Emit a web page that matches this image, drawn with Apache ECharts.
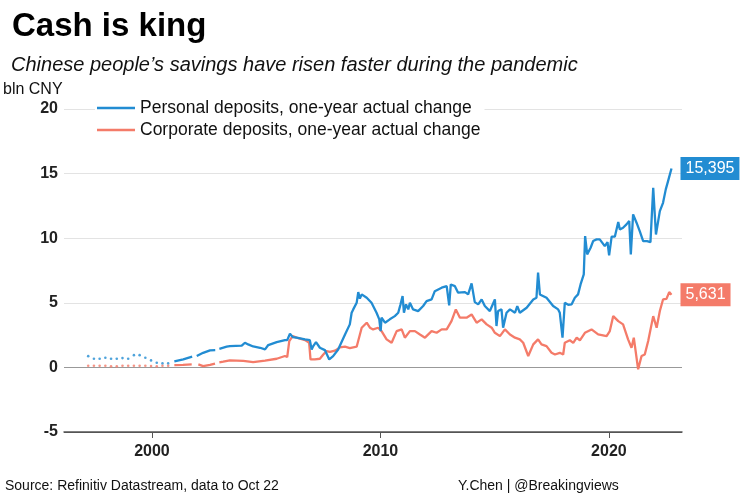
<!DOCTYPE html>
<html>
<head>
<meta charset="utf-8">
<script src="https://cdn.jsdelivr.net/npm/echarts@6/dist/echarts.min.js"></script>
<style>html,body{margin:0;padding:0;background:#fff}#c{width:750px;height:500px}</style>
</head>
<body>
<div id="c"></div>
<script>
// ---- data ----
const seriesNames = ['Personal deposits, one-year actual change', 'Corporate deposits, one-year actual change'];
const xTickYears = [2000, 2010, 2020];
const yTicks = [-5, 0, 5, 10, 15, 20];
const endLabelTexts = ['15,395', '5,631'];

// early quarterly estimates (dotted)
const dottedYears = [1997.21, 1997.46, 1997.71, 1997.96, 1998.21, 1998.46, 1998.71, 1998.96, 1999.21, 1999.46, 1999.71, 1999.96, 2000.21, 2000.46, 2000.71];
const personalDotted = [0.87, 0.67, 0.67, 0.75, 0.67, 0.67, 0.72, 0.67, 0.95, 0.95, 0.75, 0.54, 0.36, 0.31, 0.31];
const corporateDotted = [0.13, 0.13, 0.13, 0.13, 0.08, 0.08, 0.13, 0.13, 0.13, 0.13, 0.13, 0.10, 0.08, 0.13, 0.13];

const personalYears = [2000.98, 2001.37, 2001.76, 2001.86, 2001.96, 2002.24, 2002.54, 2002.77, 2002.86, 2002.95, 2003.27, 2003.41, 2003.93, 2004.07, 2004.21, 2004.43, 2004.73, 2004.95, 2005.02, 2005.09, 2005.46, 2005.82, 2005.92, 2006.04, 2006.16, 2006.33, 2006.70, 2006.91, 2006.99, 2007.06, 2007.18, 2007.35, 2007.57, 2007.76, 2007.93, 2008.15, 2008.45, 2008.66, 2008.74, 2008.81, 2008.96, 2009.03, 2009.10, 2009.18, 2009.40, 2009.61, 2009.83, 2009.95, 2010.01, 2010.05, 2010.20, 2010.41, 2010.63, 2010.78, 2010.88, 2010.97, 2011.03, 2011.12, 2011.22, 2011.29, 2011.43, 2011.65, 2011.87, 2012.02, 2012.24, 2012.38, 2012.68, 2012.90, 2013.01, 2013.08, 2013.26, 2013.40, 2013.70, 2013.84, 2013.99, 2014.13, 2014.28, 2014.43, 2014.57, 2014.79, 2015.01, 2015.08, 2015.15, 2015.30, 2015.37, 2015.52, 2015.67, 2015.89, 2015.99, 2016.10, 2016.40, 2016.69, 2016.83, 2016.90, 2016.98, 2017.27, 2017.56, 2017.78, 2017.85, 2017.97, 2018.07, 2018.22, 2018.37, 2018.51, 2018.65, 2018.76, 2018.90, 2018.96, 2019.05, 2019.20, 2019.31, 2019.46, 2019.60, 2019.68, 2019.82, 2019.94, 2020.01, 2020.12, 2020.26, 2020.41, 2020.48, 2020.62, 2020.77, 2020.89, 2020.96, 2021.06, 2021.21, 2021.35, 2021.50, 2021.67, 2021.82, 2021.94, 2022.06, 2022.23, 2022.37, 2022.49, 2022.59, 2022.74];
const personalValues = [0.46, 0.62, 0.83, null, 0.88, 1.13, 1.32, 1.34, null, 1.44, 1.60, 1.65, 1.68, 1.91, 1.78, 1.62, 1.52, 1.39, 1.26, 1.73, 1.96, 2.11, 2.11, 2.60, 2.35, 2.30, 2.17, 2.11, 1.39, 1.65, 1.96, 1.52, 1.34, 0.62, 0.87, 1.39, 2.55, 3.33, 4.23, 4.49, 5.00, 5.83, 5.32, 5.65, 5.39, 5.00, 4.23, 3.72, 2.81, 3.85, 3.46, 3.72, 3.97, 4.23, 4.88, 5.52, 4.23, 4.88, 4.49, 5.00, 4.49, 4.36, 4.75, 5.13, 5.26, 5.90, 6.17, 6.29, 4.80, 6.42, 6.29, 5.78, 5.83, 5.65, 6.50, 5.05, 4.88, 5.26, 4.75, 4.36, 5.26, 3.20, 4.36, 4.49, 3.07, 4.23, 4.49, 4.23, 4.75, 4.23, 4.62, 5.26, 5.39, 7.33, 5.65, 5.39, 4.75, 4.49, 4.23, 2.30, 5.00, 4.85, 4.88, 5.39, 5.65, 6.42, 7.20, 10.16, 8.75, 9.26, 9.78, 9.91, 9.91, 10.04, 9.39, 9.70, 8.67, 10.12, 10.12, 11.25, 10.68, 10.81, 11.07, 11.33, 8.75, 11.84, 11.20, 10.55, 9.78, 9.78, 9.70, 13.90, 10.29, 12.10, 12.74, 13.78, 14.42, 15.395];

const corporateYears = [2000.98, 2001.36, 2001.74, 2001.88, 2002.03, 2002.24, 2002.54, 2002.76, 2002.86, 2002.95, 2003.12, 2003.41, 2004.00, 2004.43, 2004.95, 2005.46, 2005.82, 2005.92, 2006.01, 2006.16, 2006.33, 2006.70, 2006.88, 2006.94, 2007.13, 2007.35, 2007.50, 2007.64, 2007.79, 2008.01, 2008.23, 2008.45, 2008.66, 2008.96, 2009.18, 2009.40, 2009.54, 2009.68, 2009.90, 2010.05, 2010.27, 2010.49, 2010.71, 2010.93, 2011.07, 2011.29, 2011.51, 2011.73, 2011.95, 2012.24, 2012.46, 2012.68, 2012.90, 2013.11, 2013.30, 2013.48, 2013.77, 2013.99, 2014.21, 2014.43, 2014.65, 2014.87, 2015.01, 2015.23, 2015.45, 2015.67, 2015.89, 2016.10, 2016.25, 2016.47, 2016.69, 2016.90, 2017.05, 2017.27, 2017.49, 2017.64, 2017.85, 2018.00, 2018.07, 2018.29, 2018.44, 2018.59, 2018.73, 2018.95, 2019.24, 2019.53, 2019.90, 2020.04, 2020.19, 2020.41, 2020.62, 2020.84, 2020.99, 2021.09, 2021.28, 2021.43, 2021.57, 2021.72, 2021.94, 2022.09, 2022.23, 2022.37, 2022.52, 2022.64, 2022.74];
const corporateValues = [0.18, 0.20, 0.23, null, 0.23, 0.10, 0.20, 0.30, null, 0.38, 0.44, 0.55, 0.50, 0.41, 0.52, 0.67, 0.88, 0.80, 2.04, 2.42, 2.30, 2.11, 1.91, 0.62, 0.62, 0.67, 1.00, 1.26, 1.20, 1.30, 1.55, 1.60, 1.50, 1.60, 3.07, 3.46, 3.07, 2.94, 3.07, 2.81, 2.17, 1.91, 2.81, 2.94, 2.30, 2.81, 2.81, 2.55, 2.30, 2.81, 2.68, 2.94, 2.94, 3.58, 4.49, 3.85, 3.85, 4.10, 3.46, 3.72, 3.33, 3.07, 2.68, 2.42, 2.94, 2.55, 2.30, 2.17, 1.91, 0.88, 1.78, 2.17, 1.78, 1.65, 1.13, 1.00, 1.13, 1.00, 1.91, 2.10, 1.90, 2.30, 2.10, 2.68, 2.94, 2.55, 2.42, 2.81, 3.97, 3.58, 3.33, 2.17, 1.52, 2.30, -0.15, 0.88, 1.00, 2.04, 3.97, 3.07, 4.36, 5.26, 5.30, 5.83, 5.631];

// ---- chart ----
const BLUE = '#228cd2';
const RED = '#f47b69';
const pairs = (xs, ys) => xs.map((x, i) => [x, ys[i] === null ? '-' : ys[i]]);

const chart = echarts.init(document.getElementById('c'), null, {renderer: 'canvas'});
const FONT = '"Liberation Sans", Arial, sans-serif';

chart.setOption({
  animation: false,
  backgroundColor: '#fff',
  textStyle: {fontFamily: FONT},
  grid: {left: 64, right: 68, top: 109, bottom: 68, containLabel: false},
  legend: {
    data: seriesNames,
    orient: 'vertical',
    left: 95,
    top: 99,
    icon: 'rect',
    itemWidth: 38,
    itemHeight: 2.5,
    itemGap: 4,
    padding: [0, 4, 0, 2],
    backgroundColor: '#fff',
    textStyle: {fontSize: 17.5, color: '#111', fontFamily: FONT}
  },
  xAxis: {
    type: 'value',
    min: 1996.15,
    max: 2023.2,
    axisLine: {show: true, onZero: false, lineStyle: {color: '#555', width: 1.5}},
    axisTick: {show: true, customValues: xTickYears, length: 6, lineStyle: {color: '#555'}},
    axisLabel: {customValues: xTickYears, formatter: v => String(v), fontSize: 16, fontWeight: 'bold', color: '#222', margin: 12, fontFamily: FONT},
    splitLine: {show: false}
  },
  yAxis: {
    type: 'value',
    min: yTicks[0],
    max: yTicks[yTicks.length - 1],
    interval: 5,
    axisLine: {show: false},
    axisTick: {show: false},
    axisLabel: {fontSize: 16, fontWeight: 'bold', color: '#222', margin: 6, fontFamily: FONT},
    splitLine: {show: true, lineStyle: {color: ['#555', '#999', '#e3e3e3', '#e3e3e3', '#e3e3e3', '#e3e3e3'], width: 1}}
  },
  series: [
    {
      name: seriesNames[0], type: 'line', data: pairs(personalYears, personalValues),
      symbol: 'none', connectNulls: false, color: BLUE,
      lineStyle: {width: 2.3, color: BLUE}, z: 3,
      endLabel: {show: true, formatter: () => endLabelTexts[0], color: '#fff', backgroundColor: BLUE,
        padding: [4, 5, 3, 5], fontSize: 16, distance: 9, fontFamily: FONT}
    },
    {
      name: seriesNames[1], type: 'line', data: pairs(corporateYears, corporateValues),
      symbol: 'none', connectNulls: false, color: RED,
      lineStyle: {width: 2.3, color: RED}, z: 2,
      endLabel: {show: true, formatter: () => endLabelTexts[1], color: '#fff', backgroundColor: RED,
        padding: [4, 5, 3, 5], fontSize: 16, distance: 9, fontFamily: FONT}
    },
    {
      type: 'scatter', data: pairs(dottedYears, personalDotted), symbolSize: 2.6,
      itemStyle: {color: BLUE}, silent: true
    },
    {
      type: 'scatter', data: pairs(dottedYears, corporateDotted), symbolSize: 2.6,
      itemStyle: {color: RED}, silent: true
    }
  ],
  graphic: [
    {type: 'text', left: 12, top: 10, style: {text: 'Cash is king', font: 'bold 33px ' + FONT, fill: '#000'}},
    {type: 'text', left: 11, top: 55, style: {text: 'Chinese people\u2019s savings have risen faster during the pandemic', font: 'italic 20px ' + FONT, fill: '#111'}},
    {type: 'text', left: 3, top: 82, style: {text: 'bln CNY', font: '16px ' + FONT, fill: '#111'}},
    {type: 'text', left: 5, top: 479, style: {text: 'Source: Refinitiv Datastream, data to Oct 22', font: '14px ' + FONT, fill: '#111'}},
    {type: 'text', left: 458, top: 479, style: {text: 'Y.Chen | @Breakingviews', font: '14px ' + FONT, fill: '#111'}}
  ]
});
</script>
</body>
</html>
